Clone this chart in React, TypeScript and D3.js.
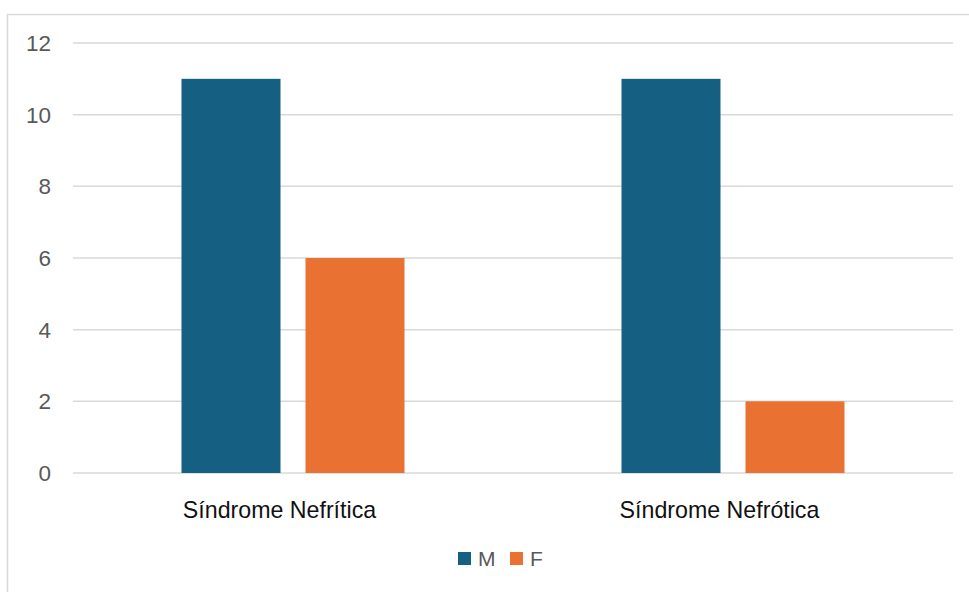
import React from "react";
import * as d3 from "d3";

const categories = ["Síndrome Nefrítica", "Síndrome Nefrótica"];
const seriesNames = ["M", "F"];
const seriesM = [11, 11];
const seriesF = [6, 2];
const yTicks = [0, 2, 4, 6, 8, 10, 12];
const colors = ["#155f82", "#e97132"];

export default function App() {
  const W = 969, H = 592;
  const left = 73, right = 953, top = 43, bottom = 473;
  const x = d3.scaleBand<string>().domain(categories).range([left, right]).paddingInner(0).paddingOuter(0);
  const y = d3.scaleLinear().domain([0, 12]).range([bottom, top]);
  const values = [seriesM, seriesF];
  const barW = 99, gap = 25;
  const groupW = barW * 2 + gap;
  return (
    <svg width={W} height={H} style={{ position: "absolute", left: 0, top: 0, background: "#fff" }}>
      <rect x={7.5} y={14.5} width={W + 10} height={H + 10} fill="#fff" stroke="#d9d9d9" strokeWidth={1.5} />
      {yTicks.map((t) => (
        <g key={t}>
          <line x1={left} x2={right} y1={y(t)} y2={y(t)} stroke="#d9d9d9" strokeWidth={1.5} />
          <text x={51} y={y(t)} dy="0.35em" textAnchor="end" fontFamily="'Liberation Sans', Arial, sans-serif" fontSize={22.5} fill="#595959">{t}</text>
        </g>
      ))}
      {categories.map((c, i) => {
        const cx = (x(c) as number) + x.bandwidth() / 2;
        return (
          <g key={c}>
            {values.map((s, j) => (
              <rect key={j} x={cx - groupW / 2 + j * (barW + gap)} y={y(s[i])} width={barW} height={y(0) - y(s[i])} fill={colors[j]} />
            ))}
            <text x={cx - 13.5} y={518} textAnchor="middle" fontFamily="'Liberation Sans', Arial, sans-serif" fontSize={23.2} fill="#111">{c}</text>
          </g>
        );
      })}
      <g>
        {seriesNames.map((n, j) => (
          <g key={n} transform={`translate(${458 + j * 52},0)`}>
            <rect x={0} y={552} width={13} height={13} fill={colors[j]} />
            <text x={20} y={558.5} dy="0.35em" fontFamily="'Liberation Sans', Arial, sans-serif" fontSize={21} fill="#595959">{n}</text>
          </g>
        ))}
      </g>
    </svg>
  );
}
